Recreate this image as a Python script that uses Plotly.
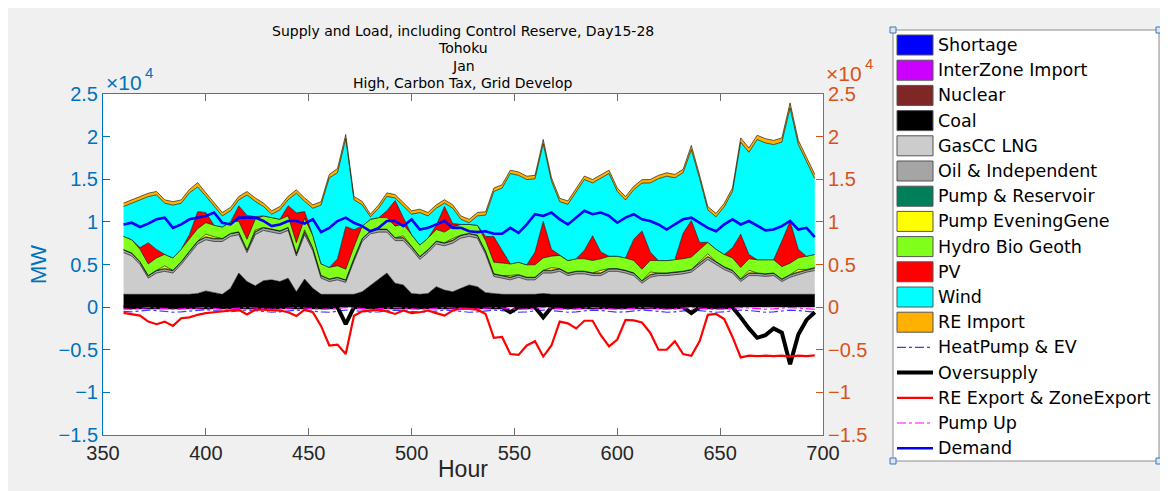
import plotly.graph_objects as go

# ---------------- data (MW), hourly samples every 4 h ----------------
hours = list(range(360, 697, 4))

coal = [1500,1500,1500,1500,1500,1500,1500,1500,1500,1600,
        1900,1700,1500,2200,4000,3000,2500,3100,3200,3000,
        3400,1800,3300,2200,1500,1500,1500,1500,1500,1800,
        2500,3300,4000,2800,2600,1600,1500,1600,2400,2000,
        1800,2200,2600,2400,1700,1600,1500,1500,1500,1500,
        1500,1600,1500,1500,1500,1500,1500,1500,1500,1500,
        1500,1500,1500,1550,1500,1500,1500,1500,1500,1500,
        1500,1500,1500,1500,1500,1550,1500,1500,1500,1500,
        1500,1500,1500,1500,1500]
gas_lng = [4900,4500,3500,1900,2500,2700,2500,3500,4700,5800,
           6000,6000,6200,6100,4500,3400,6000,5900,5600,5600,
           5600,4200,5200,4400,1900,1500,1700,1400,3900,5900,
           6100,5500,4800,5000,5200,5200,4100,4800,5000,5200,
           5700,5900,5700,5700,4500,2000,1900,1700,2000,1700,
           1700,2400,2500,2700,2200,2400,2400,2200,2200,2700,
           2700,2500,2200,1250,2000,2200,2200,2300,2400,2600,
           3300,4100,3500,2900,2500,1450,2200,2200,2100,2200,
           1500,2000,2300,2600,2800]
oil_indep = [300,300,280,260,270,280,270,280,300,300,
             300,300,300,300,280,260,300,300,300,300,
             300,260,300,300,270,260,260,250,280,300,
             300,300,300,300,300,300,290,300,300,300,
             300,300,300,300,290,270,260,260,260,260,
             260,270,270,270,260,270,270,270,260,270,
             270,270,270,250,260,260,260,270,270,270,
             280,290,290,280,270,250,260,260,260,260,
             250,260,270,270,280]
pump_reservoir = [50,50,50,50,50,60,50,50,50,50,
                  60,50,50,50,50,50,60,50,50,50,
                  50,50,60,50,50,50,50,50,50,50,
                  50,50,50,50,60,50,50,50,50,50,
                  60,50,50,50,50,50,50,60,50,50,
                  50,50,60,50,50,50,50,50,60,50,
                  50,50,50,50,60,50,50,50,50,50,
                  60,60,50,50,50,50,60,50,50,50,
                  50,50,60,50,50]
pump_evening = [0,0,0,0,0,300,0,0,0,0,
                300,200,0,0,0,0,200,0,0,0,
                0,0,200,0,0,0,0,0,0,0,
                0,0,0,0,200,0,0,0,0,0,
                200,0,0,0,0,0,0,200,0,0,
                0,0,300,0,0,0,0,0,300,0,
                0,0,0,0,300,0,0,0,0,0,
                200,300,0,0,0,0,300,0,0,0,
                0,0,300,0,0]
hydro_bio_geoth = [1550,1550,1450,1350,1450,1350,1450,1450,1450,1450,
                   1350,1350,1350,1350,1250,1250,1250,1350,1350,1350,
                   1350,1250,1350,1450,1350,1350,1350,1250,1350,1450,
                   1350,1350,1350,1350,1350,1350,1350,1350,1350,1250,
                   1350,1250,1050,1150,1250,1350,1450,1350,1450,1450,
                   1450,1450,1350,1550,1450,1450,1450,1450,1350,1450,
                   1450,1450,1450,1350,1350,1450,1450,1450,1450,1450,
                   1450,1350,1450,1450,1450,1350,1350,1550,1650,1550,
                   1450,1350,1350,1550,1550]
pv = [0,0,200,2500,1000,0,0,0,500,2000,
      1200,0,0,0,1800,2800,300,0,0,0,
      1200,3500,800,0,0,0,800,5000,2000,0,
      0,0,800,3000,800,0,0,0,500,3000,
      400,0,0,0,500,3000,1500,0,0,0,
      1500,4300,800,0,0,0,1000,2900,800,0,
      0,0,2500,4500,1000,0,0,0,3000,4300,
      800,0,0,0,1200,3900,500,0,0,0,
      3000,4900,1000,0,0]
wind = [3500,4300,5600,5400,6400,6000,6200,5400,4900,2900,
        1900,2200,1300,1300,700,2400,1800,1100,400,1100,
        700,2300,1200,3200,6900,10500,10100,10300,3500,2500,
        300,1100,1700,300,1300,2400,3800,2600,2000,400,
        1800,600,200,1100,2500,5300,7300,10600,10200,10000,
        8600,9100,8000,6300,6600,7900,8300,6200,8700,9700,
        7600,6800,5800,5600,8100,9600,9900,9600,7100,8300,
        7500,3800,3800,5600,6600,10800,12000,14100,13700,13500,
        11600,13300,12300,11200,8900]
re_import = [400,400,400,400,400,400,400,400,400,500,
             400,400,400,400,400,400,400,400,400,400,
             400,400,400,400,400,400,500,500,400,400,
             300,400,400,400,400,400,400,400,400,400,
             400,400,400,400,400,400,400,400,400,400,
             400,500,400,400,400,400,400,400,400,400,
             400,400,400,400,400,400,400,400,400,500,
             400,400,400,400,400,500,500,500,500,500,
             500,600,500,500,500]
heatpump_ev = [-500,-550,-450,-350,-400,-500,-600,-550,-450,-350,
               -300,-400,-500,-550,-450,-350,-400,-500,-600,-550,
               -450,-350,-400,-500,-550,-600,-450,-350,-400,-500,
               -600,-550,-450,-350,-400,-500,-600,-550,-450,-350,
               -400,-500,-600,-550,-450,-350,-400,-500,-600,-550,
               -450,-350,-400,-500,-600,-550,-450,-350,-400,-500,
               -600,-550,-450,-350,-400,-500,-600,-550,-450,-350,
               -400,-500,-600,-550,-450,-350,-400,-500,-600,-550,
               -450,-350,-400,-500,-600]
oversupply = [0,0,0,0,0,0,0,0,0,0,
              0,0,0,0,0,0,0,0,0,0,
              0,0,0,0,0,0,0,-2000,0,0,
              0,0,0,0,0,0,0,0,0,0,
              0,0,0,0,0,0,0,-600,0,0,
              0,-1200,0,0,0,0,0,0,0,0,
              0,0,0,0,0,0,0,0,0,-700,
              0,0,0,0,0,-1200,-2500,-3600,-3300,-2500,
              -3000,-6700,-3200,-1500,-600]
re_export = [-670,-800,-1000,-1700,-2000,-1700,-2200,-1300,-1200,-900,
             -700,-600,-500,-400,-300,-850,-300,-300,-350,-400,
             -600,-1050,-300,-600,-2200,-4500,-4400,-5500,-1000,-500,
             -400,-300,-500,-800,-400,-700,-600,-400,-700,-1000,
             -400,-150,-200,-300,-800,-3600,-3500,-5500,-5600,-4500,
             -4000,-5800,-4500,-1700,-1900,-2500,-1600,-1600,-3300,-4600,
             -3800,-1500,-1550,-1800,-3000,-5000,-5000,-4000,-5500,-5700,
             -4000,-900,-800,-1400,-3500,-5900,-5700,-5750,-5700,-5750,
             -5700,-5800,-5700,-5750,-5650]
pump_up = [-200,-250,-150,-50,-100,-200,-250,-200,-150,-50,
           -50,-150,-250,-200,-100,-50,-100,-200,-250,-200,
           -100,-50,-100,-200,-250,-200,-100,-50,-100,-200,
           -250,-200,-150,-50,-100,-200,-250,-200,-100,-50,
           -100,-200,-250,-200,-100,-50,-100,-200,-250,-200,
           -150,-50,-100,-200,-250,-200,-100,-50,-100,-200,
           -250,-200,-100,-50,-100,-200,-250,-200,-100,-50,
           -100,-200,-250,-200,-100,-50,-100,-200,-250,-200,
           -100,-50,-100,-200,-250]
demand = [9700,9900,9400,9800,10300,10500,9300,9700,10300,10500,
          10700,11100,9900,9700,10500,10500,10500,10100,9500,9700,
          10100,10100,9800,10300,8800,9300,10100,10500,9900,9500,
          8900,9300,10100,10100,9500,10300,9100,9300,9700,10100,
          9300,9300,8900,8800,8900,8600,8600,9300,8700,9700,
          10900,10700,11100,10300,9700,10500,11300,10900,11100,10700,
          9900,10500,10900,10300,10100,9700,9100,9700,10300,10500,
          9900,9300,8900,9700,10300,9700,10100,9500,9000,9100,
          9500,10100,9100,9300,8200]

# tick labels
x_ticks = [350, 400, 450, 500, 550, 600, 650, 700]
y_ticks = [-15000, -10000, -5000, 0, 5000, 10000, 15000, 20000, 25000]
y_tick_text = ["\u22121.5", "\u22121", "\u22120.5", "0", "0.5", "1", "1.5", "2", "2.5"]

title_lines = ["Supply and Load, including Control Reserve, Day15-28",
               "Tohoku", "Jan", "High, Carbon Tax, Grid Develop"]

# ---------------- styling ----------------
BLUE_AX = "#0072BD"
ORANGE_AX = "#D95319"
AX_GRAY = "#6e6e6e"

stack_series = [
    ("Coal", coal, "#000000"),
    ("GasCC LNG", gas_lng, "#CCCCCC"),
    ("Oil & Independent", oil_indep, "#A5A5A5"),
    ("Pump & Reservoir", pump_reservoir, "#00805A"),
    ("Pump EveningGene", pump_evening, "#FFFF00"),
    ("Hydro Bio Geoth", hydro_bio_geoth, "#80FF1A"),
    ("PV", pv, "#FF0000"),
    ("Wind", wind, "#00FFFF"),
    ("RE Import", re_import, "#FFB000"),
]

fig = go.Figure()
for name, vals, col in stack_series:
    fig.add_trace(go.Scatter(x=hours, y=vals, name=name, stackgroup="supply",
                             mode="lines", line=dict(color="#000000", width=0.6),
                             fillcolor=col, showlegend=False))

line_series = [
    ("HeatPump & EV", heatpump_ev, dict(color="#3a3aff", width=1.2, dash="dashdot"), "y"),
    ("Oversupply", oversupply, dict(color="#000000", width=4), "y"),
    ("RE Export & ZoneExport", re_export, dict(color="#FF0000", width=2.2), "y"),
    ("Pump Up", pump_up, dict(color="#FF00FF", width=1.2, dash="dashdot"), "y"),
    ("Demand", demand, dict(color="#0000FF", width=2.6), "y2"),
]
for name, vals, ln, ax in line_series:
    fig.add_trace(go.Scatter(x=hours, y=vals, name=name, mode="lines", line=ln,
                             yaxis=ax, showlegend=False))

# ---------------- geometry (screen pixels; page body adds an 8 px offset) ----------------
OFF = 8
L, R, T, B = 103, 823, 94, 435          # plot box in screen pixels
W, H = 1160, 483                        # figure size
def px(x):
    return (x - L) / (R - L)
def py(y):
    return (B - y) / (B - T)

annotations = []
shapes = []

def note(text, x, y, size, color, family="Liberation Sans", xa="center", ya="middle", angle=0):
    annotations.append(dict(text=text, x=px(x), y=py(y), xref="paper", yref="paper",
                            xanchor=xa, yanchor=ya, showarrow=False, textangle=angle,
                            font=dict(family=family, size=size, color=color)))

# title lines
for i, t in enumerate(title_lines):
    note(t, 463, 31 + 17.3 * i, 14, "#000000", family="DejaVu Sans")

# axis labels
note("Hour", 463, 469, 23, "#262626")
note("MW", 38, 265, 22, BLUE_AX, angle=-90)
# exponent markers (x10 with raised 4)
note("\u00d710", 104, 82, 21, BLUE_AX, xa="left")
note("4", 143, 72, 15, BLUE_AX, xa="left")
note("\u00d710", 824, 73, 21, ORANGE_AX, xa="left")
note("4", 863, 63, 15, ORANGE_AX, xa="left")

# ---------------- legend box (drawn) ----------------
legend_items = [
    ("Shortage", "patch", "#0000FF"),
    ("InterZone Import", "patch", "#CC00FF"),
    ("Nuclear", "patch", "#7F2626"),
    ("Coal", "patch", "#000000"),
    ("GasCC LNG", "patch", "#CCCCCC"),
    ("Oil & Independent", "patch", "#A5A5A5"),
    ("Pump & Reservoir", "patch", "#00805A"),
    ("Pump EveningGene", "patch", "#FFFF00"),
    ("Hydro Bio Geoth", "patch", "#80FF1A"),
    ("PV", "patch", "#FF0000"),
    ("Wind", "patch", "#00FFFF"),
    ("RE Import", "patch", "#FFB000"),
] + [(n, "line", ln) for n, _, ln, _ in line_series]

LX0, LX1, LY0, LY1 = 893, 1159, 30, 461
shapes.append(dict(type="rect", xref="paper", yref="paper", x0=px(LX0), x1=px(LX1),
                   y0=py(LY1), y1=py(LY0), fillcolor="#FFFFFF",
                   line=dict(color="#8c8c8c", width=1), layer="above"))
for i, (name, kind, sty) in enumerate(legend_items):
    cy = 45 + 25.2 * i
    if kind == "patch":
        shapes.append(dict(type="rect", xref="paper", yref="paper", x0=px(897), x1=px(933),
                           y0=py(cy + 10), y1=py(cy - 10), fillcolor=sty,
                           line=dict(color="#555555", width=1), layer="above"))
    else:
        shapes.append(dict(type="line", xref="paper", yref="paper", x0=px(897), x1=px(933),
                           y0=py(cy), y1=py(cy), line=sty, layer="above"))
    note(name, 936, cy, 17.5, "#000000", family="DejaVu Sans", xa="left")
# selection handles at legend corners
for hx in (LX0, LX1):
    for hy in (LY0, LY1):
        shapes.append(dict(type="rect", xref="paper", yref="paper", x0=px(hx - 3), x1=px(hx + 3),
                           y0=py(hy + 3), y1=py(hy - 3), fillcolor="#d6e6f7",
                           line=dict(color="#3c78b4", width=1), layer="above"))

tickfont = dict(family="Liberation Sans", size=20)
fig.update_layout(
    width=W, height=H, autosize=False,
    margin=dict(l=L - OFF, r=W - (R - OFF), t=T - OFF, b=H - (B - OFF), pad=0),
    paper_bgcolor="#F0F0F0", plot_bgcolor="#FFFFFF",
    showlegend=False,
    xaxis=dict(range=[350, 700], tickvals=x_ticks, ticks="inside", ticklen=7, tickcolor=AX_GRAY,
               showline=True, linecolor=AX_GRAY, linewidth=1, mirror="ticks",
               showgrid=False, zeroline=False, automargin=False,
               tickfont=dict(tickfont, color="#262626")),
    yaxis=dict(range=[-15000, 25000], tickvals=y_ticks, ticktext=y_tick_text,
               ticks="inside", ticklen=7, tickcolor=BLUE_AX, showline=True, linecolor=BLUE_AX,
               linewidth=1, showgrid=False, zeroline=False, automargin=False,
               tickfont=dict(tickfont, color=BLUE_AX)),
    yaxis2=dict(range=[-15000, 25000], tickvals=y_ticks, ticktext=y_tick_text, overlaying="y",
                side="right", ticks="inside", ticklen=7, tickcolor=ORANGE_AX, showline=True,
                linecolor=ORANGE_AX, linewidth=1, showgrid=False, zeroline=False,
                automargin=False, tickfont=dict(tickfont, color=ORANGE_AX)),
    annotations=annotations,
    shapes=shapes,
)

fig.write_html("out.html")
